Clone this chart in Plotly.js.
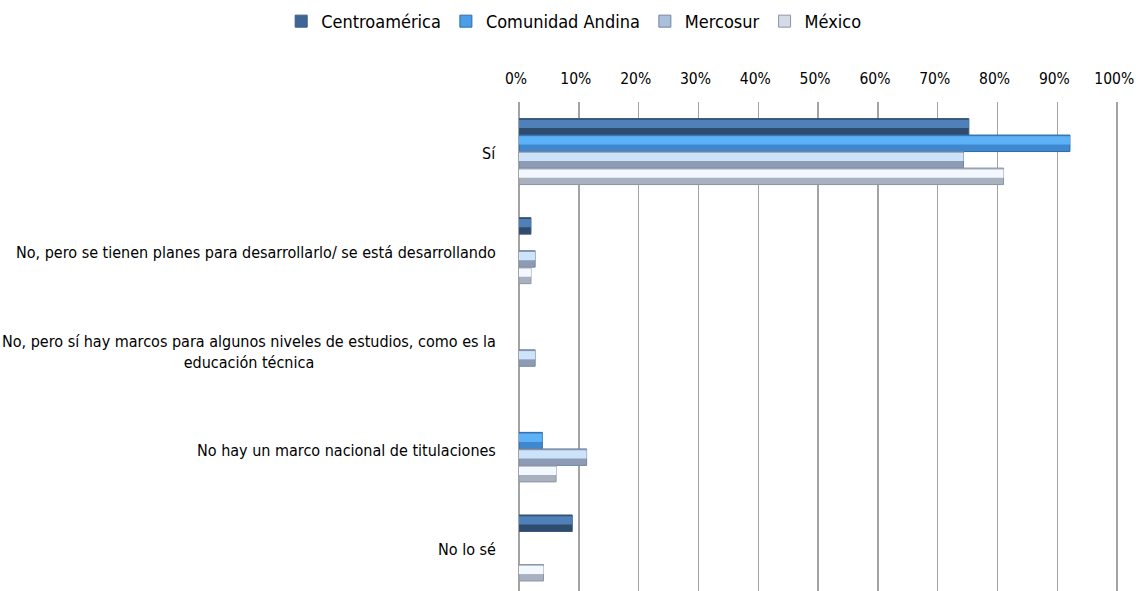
<!DOCTYPE html>
<html>
<head>
<meta charset="utf-8">
<script src="https://cdn.plot.ly/plotly-3.0.1.min.js"></script>
<style>html,body{margin:0;padding:0;background:#fff;}#chart{width:1136px;height:591px;}</style>
</head>
<body>
<div id="chart"></div>
<script>
// ---- data ----
var categories = [
  "Sí",
  "No, pero se tienen planes para desarrollarlo/ se está desarrollando",
  "No, pero sí hay marcos para algunos niveles de estudios, como es la<br>educación técnica",
  "No hay un marco nacional de titulaciones",
  "No lo sé"
];
var seriesNames = ["Centroamérica", "Comunidad Andina", "Mercosur", "México"];
var centroamerica   = [75.2, 2.0, 0,   0,    8.9];
var comunidadAndina = [92.1, 0,   0,   3.9,  0];
var mercosur        = [74.3, 2.7, 2.7, 11.3, 0];
var mexico          = [81.0, 2.0, 0,   6.2,  4.1];
var tickVals = [0, 10, 20, 30, 40, 50, 60, 70, 80, 90, 100];
var tickText = ["0%", "10%", "20%", "30%", "40%", "50%", "60%", "70%", "80%", "90%", "100%"];

// ---- styling ----
var seriesValues = [centroamerica, comunidadAndina, mercosur, mexico];
var darkColors  = ["#2f4b6d", "#3f88cf", "#8d9cb4", "#a9b1bf"];
var lightColors = ["#4f80b8", "#5db2f7", "#cde3fa", "#f3f8ff"];
var lineColors  = ["#3a5a80", "#2f6aa3", "#7585a0", "#8c96a8"];
var legendColors = ["#3d6696", "#4a9fe8", "#a9bfdc", "#d4dbe6"];
var FONT = '"DejaVu Sans Condensed", "Liberation Sans Narrow", sans-serif';

var yIdx = categories.map(function (c, i) { return i; });
var barW = 0.1665;
var groupStart = -2 * barW;

function nz(arr) { return arr.map(function (v) { return v === 0 ? null : v; }); }

var traces = [];
seriesValues.forEach(function (vals, s) {
  var off = groupStart + s * barW;
  var v = nz(vals);
  traces.push({
    type: 'bar', orientation: 'h', name: seriesNames[s],
    x: v, y: yIdx, width: barW, offset: off,
    marker: { color: darkColors[s], line: { color: lineColors[s], width: 1 } },
    showlegend: false, hoverinfo: 'x+name'
  });
  traces.push({
    type: 'bar', orientation: 'h', name: seriesNames[s],
    x: v, y: yIdx, width: barW * 0.5, offset: off + barW * 0.08,
    marker: { color: lightColors[s], line: { width: 0 } },
    showlegend: false, hoverinfo: 'skip'
  });
  traces.push({
    type: 'bar', orientation: 'h', name: seriesNames[s],
    x: [null], y: [0],
    marker: { color: legendColors[s], line: { color: lineColors[s], width: 1 } },
    showlegend: true, hoverinfo: 'skip'
  });
});

var annotations = categories.map(function (c, i) {
  return {
    xref: 'x', yref: 'y', x: 0, y: i, xanchor: 'right', yanchor: 'middle',
    xshift: -21, yshift: -2, align: 'center', showarrow: false, text: c,
    font: { family: FONT, size: 16, color: '#000' }
  };
});

var layout = {
  width: 1136, height: 591,
  margin: { l: 519, r: 17, t: 102, b: 0, pad: 0 },
  paper_bgcolor: '#fff', plot_bgcolor: '#fff',
  barmode: 'overlay',
  font: { family: FONT, size: 16, color: '#000' },
  xaxis: {
    side: 'top', range: [0, 100.3], tickvals: tickVals, ticktext: tickText,
    showgrid: true, gridcolor: '#a3a3a3', gridwidth: 1.5,
    zeroline: true, zerolinecolor: '#a3a3a3', zerolinewidth: 2,
    ticks: '', ticklabelstandoff: 14, ticklabelshift: -3, ticklabeloverflow: 'allow', fixedrange: true,
    tickfont: { family: FONT, size: 15.5, color: '#000' }
  },
  yaxis: {
    type: 'linear', range: [4.434, -0.5], showgrid: false, zeroline: false,
    showticklabels: false, ticks: '', fixedrange: true
  },
  legend: {
    orientation: 'h', xref: 'container', yref: 'container',
    x: 0.505, xanchor: 'center', y: 0.995, yanchor: 'top',
    font: { family: FONT, size: 18, color: '#000' },
    itemwidth: 30, tracegroupgap: 0, traceorder: 'normal'
  },
  annotations: annotations,
  showlegend: true
};

Plotly.newPlot('chart', traces, layout, { displayModeBar: false, staticPlot: true });
</script>
</body>
</html>
